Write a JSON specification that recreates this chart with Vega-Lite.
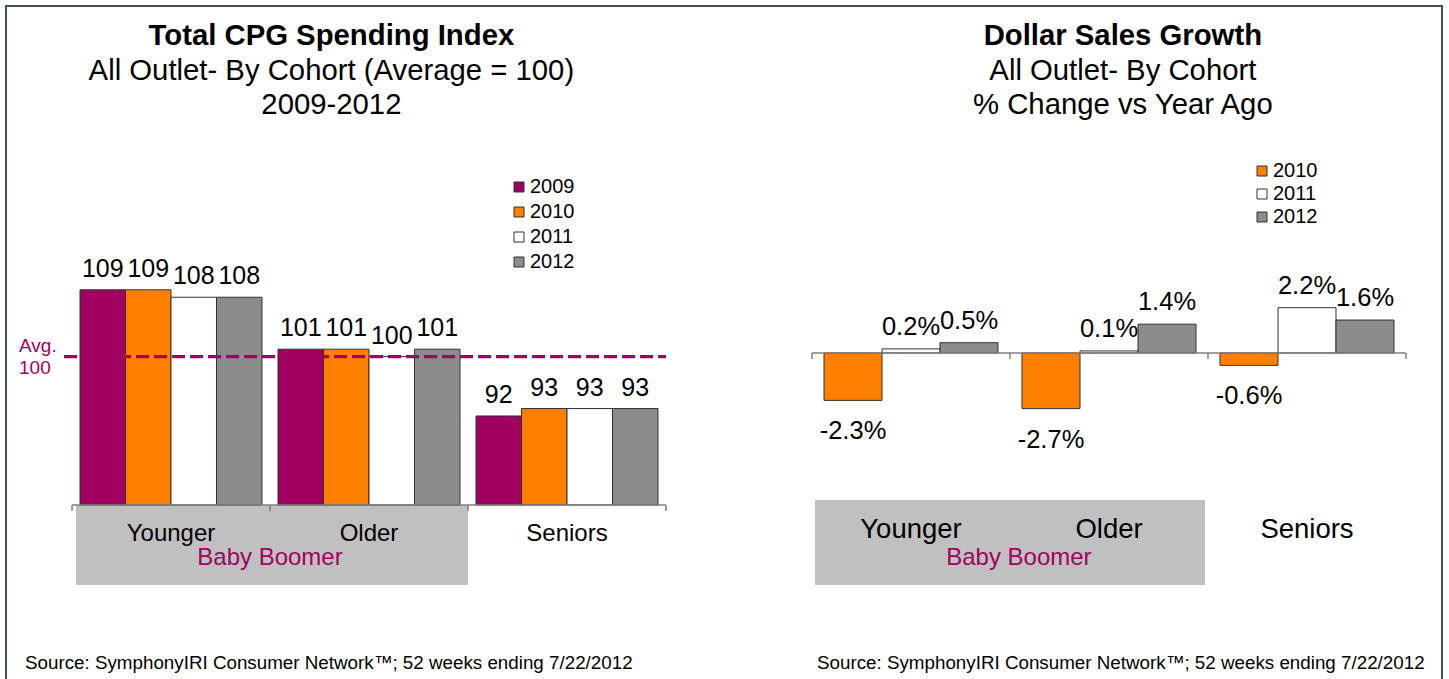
{
  "$schema": "https://vega.github.io/schema/vega-lite/v6.json",
  "width": 1449,
  "height": 679,
  "autosize": {"type": "fit", "contains": "padding"},
  "padding": {"left": 6, "top": 6, "right": 7, "bottom": -3},
  "background": "#FFFFFF",
  "config": {
    "font": "Liberation Sans",
    "axis": {"disable": true},
    "view": {"stroke": "#3D5166", "strokeWidth": 2},
    "legend": {
      "title": null,
      "labelFont": "Liberation Sans",
      "labelFontSize": 20,
      "labelColor": "#000000",
      "symbolType": "square",
      "symbolSize": 100,
      "symbolStrokeColor": "#333333",
      "symbolStrokeWidth": 1,
      "labelOffset": 1,
      "padding": 0
    }
  },
  "datasets": {
    "left": [
      {"cohort": "Younger", "year": "2009", "value": 109},
      {"cohort": "Younger", "year": "2010", "value": 109},
      {"cohort": "Younger", "year": "2011", "value": 108},
      {"cohort": "Younger", "year": "2012", "value": 108},
      {"cohort": "Older", "year": "2009", "value": 101},
      {"cohort": "Older", "year": "2010", "value": 101},
      {"cohort": "Older", "year": "2011", "value": 100},
      {"cohort": "Older", "year": "2012", "value": 101},
      {"cohort": "Seniors", "year": "2009", "value": 92},
      {"cohort": "Seniors", "year": "2010", "value": 93},
      {"cohort": "Seniors", "year": "2011", "value": 93},
      {"cohort": "Seniors", "year": "2012", "value": 93}
    ],
    "right": [
      {"cohort": "Younger", "year": "2010", "value": -2.3, "label": "-2.3%"},
      {"cohort": "Younger", "year": "2011", "value": 0.2, "label": "0.2%"},
      {"cohort": "Younger", "year": "2012", "value": 0.5, "label": "0.5%"},
      {"cohort": "Older", "year": "2010", "value": -2.7, "label": "-2.7%"},
      {"cohort": "Older", "year": "2011", "value": 0.1, "label": "0.1%"},
      {"cohort": "Older", "year": "2012", "value": 1.4, "label": "1.4%"},
      {"cohort": "Seniors", "year": "2010", "value": -0.6, "label": "-0.6%"},
      {"cohort": "Seniors", "year": "2011", "value": 2.2, "label": "2.2%"},
      {"cohort": "Seniors", "year": "2012", "value": 1.6, "label": "1.6%"}
    ],
    "cohorts": [
      {"cohort": "Younger"},
      {"cohort": "Older"},
      {"cohort": "Seniors"}
    ],
    "one": [{"k": 1}]
  },
  "layer": [
    {
      "layer": [
        {
          "data": {"name": "one"},
          "mark": {"type": "rect", "color": "#C0C0C0"},
          "encoding": {
            "x": {"datum": "Younger", "type": "nominal", "bandPosition": 0.02},
            "x2": {"datum": "Older", "bandPosition": 1},
            "y": {"datum": 80, "type": "quantitative"},
            "y2": {"datum": 69.22}
          }
        },
        {
          "data": {"name": "left"},
          "mark": {"type": "bar", "stroke": "#333333", "strokeWidth": 1},
          "encoding": {
            "x": {
              "field": "cohort", "type": "nominal",
              "scale": {"domain": ["Younger", "Older", "Seniors"], "range": [66, 660], "paddingInner": 0, "paddingOuter": 0}
            },
            "xOffset": {
              "field": "year", "type": "nominal",
              "scale": {"domain": ["2009", "2010", "2011", "2012"], "paddingInner": 0, "paddingOuter": 0.176}
            },
            "y": {
              "field": "value", "type": "quantitative",
              "scale": {"domain": [80, 120], "range": [499, 202.2], "zero": false, "nice": false}
            },
            "y2": {"datum": 80},
            "color": {
              "field": "year", "type": "nominal",
              "scale": {"domain": ["2009", "2010", "2011", "2012"], "range": ["#A0005F", "#FF7F00", "#FFFFFF", "#8C8C8C"]},
              "legend": {"orient": "none", "legendX": 503, "legendY": 171, "rowPadding": 5}
            }
          }
        },
        {
          "data": {"name": "one"},
          "mark": {"type": "rule", "color": "#7F7F7F", "strokeWidth": 1.5},
          "encoding": {
            "x": {"datum": "Younger", "type": "nominal", "bandPosition": 0},
            "x2": {"datum": "Seniors", "bandPosition": 1},
            "y": {"datum": 80, "type": "quantitative"}
          }
        },
        {
          "data": {"name": "cohorts"},
          "mark": {"type": "rule", "color": "#7F7F7F", "strokeWidth": 1.5},
          "encoding": {
            "x": {"field": "cohort", "type": "nominal", "bandPosition": 0},
            "y": {"datum": 80, "type": "quantitative"},
            "y2": {"datum": 79.2}
          }
        },
        {
          "data": {"name": "one"},
          "mark": {"type": "rule", "color": "#7F7F7F", "strokeWidth": 1.5},
          "encoding": {
            "x": {"datum": "Seniors", "type": "nominal", "bandPosition": 1},
            "y": {"datum": 80, "type": "quantitative"},
            "y2": {"datum": 79.2}
          }
        },
        {
          "data": {"name": "left"},
          "mark": {"type": "text", "fontSize": 25, "baseline": "alphabetic", "dy": -13, "color": "#000000"},
          "encoding": {
            "x": {"field": "cohort", "type": "nominal"},
            "xOffset": {"field": "year", "type": "nominal"},
            "y": {"field": "value", "type": "quantitative"},
            "text": {"field": "value", "type": "quantitative"}
          }
        },
        {
          "data": {"name": "one"},
          "mark": {"type": "rule", "color": "#A0005F", "strokeWidth": 3.3, "strokeDash": [13, 5]},
          "encoding": {
            "x": {"datum": "Younger", "type": "nominal", "bandPosition": -0.04},
            "x2": {"datum": "Seniors", "bandPosition": 1},
            "y": {"datum": 100, "type": "quantitative"}
          }
        },
        {
          "data": {"name": "one"},
          "mark": {"type": "text", "align": "left", "baseline": "middle", "dx": -53, "fontSize": 19, "lineHeight": 22, "color": "#A0005F"},
          "encoding": {
            "x": {"datum": "Younger", "type": "nominal", "bandPosition": 0},
            "y": {"datum": 101.43, "type": "quantitative"},
            "text": {"value": ["Avg.", "100"]}
          }
        },
        {
          "data": {"name": "cohorts"},
          "mark": {"type": "text", "fontSize": 24, "baseline": "middle", "color": "#000000"},
          "encoding": {
            "x": {"field": "cohort", "type": "nominal"},
            "y": {"datum": 76.1, "type": "quantitative"},
            "text": {"field": "cohort", "type": "nominal"}
          }
        },
        {
          "data": {"name": "one"},
          "mark": {"type": "text", "fontSize": 24, "baseline": "middle", "color": "#A0005F"},
          "encoding": {
            "x": {"datum": "Younger", "type": "nominal", "bandPosition": 1},
            "y": {"datum": 72.8, "type": "quantitative"},
            "text": {"value": "Baby Boomer"}
          }
        },
        {
          "data": {"name": "one"},
          "mark": {"type": "text", "fontSize": 29.3, "fontWeight": "bold", "baseline": "middle", "color": "#000000"},
          "encoding": {
            "x": {"datum": "Older", "type": "nominal", "bandPosition": 0.31},
            "y": {"datum": 143.2, "type": "quantitative"},
            "text": {"value": "Total CPG Spending Index"}
          }
        },
        {
          "data": {"name": "one"},
          "mark": {"type": "text", "fontSize": 29.3, "baseline": "middle", "color": "#000000"},
          "encoding": {
            "x": {"datum": "Older", "type": "nominal", "bandPosition": 0.31},
            "y": {"datum": 138.5, "type": "quantitative"},
            "text": {"value": "All Outlet- By Cohort (Average = 100)"}
          }
        },
        {
          "data": {"name": "one"},
          "mark": {"type": "text", "fontSize": 29.3, "baseline": "middle", "color": "#000000"},
          "encoding": {
            "x": {"datum": "Older", "type": "nominal", "bandPosition": 0.31},
            "y": {"datum": 133.9, "type": "quantitative"},
            "text": {"value": "2009-2012"}
          }
        },
        {
          "data": {"name": "one"},
          "mark": {"type": "text", "fontSize": 18.8, "align": "left", "baseline": "middle", "dx": -47, "color": "#000000"},
          "encoding": {
            "x": {"datum": "Younger", "type": "nominal", "bandPosition": 0},
            "y": {"datum": 58.7, "type": "quantitative"},
            "text": {"value": "Source:  SymphonyIRI Consumer Network™;  52 weeks ending 7/22/2012"}
          }
        }
      ]
    },
    {
      "layer": [
        {
          "data": {"name": "one"},
          "mark": {"type": "rect", "color": "#C0C0C0"},
          "encoding": {
            "x": {"datum": "Younger", "type": "nominal", "bandPosition": 0.015},
            "x2": {"datum": "Older", "bandPosition": 0.985},
            "y": {"datum": -7.14, "type": "quantitative"},
            "y2": {"datum": -11.26}
          }
        },
        {
          "data": {"name": "right"},
          "mark": {"type": "bar", "stroke": "#333333", "strokeWidth": 1},
          "encoding": {
            "x": {
              "field": "cohort", "type": "nominal",
              "scale": {"domain": ["Younger", "Older", "Seniors"], "range": [806, 1400], "paddingInner": 0, "paddingOuter": 0}
            },
            "xOffset": {
              "field": "year", "type": "nominal",
              "scale": {"domain": ["2010", "2011", "2012"], "paddingInner": 0, "paddingOuter": 0.207}
            },
            "y": {
              "field": "value", "type": "quantitative",
              "scale": {"domain": [-4, 7], "range": [429.4, 202.8], "zero": false, "nice": false}
            },
            "y2": {"datum": 0},
            "color": {
              "field": "year", "type": "nominal",
              "scale": {"domain": ["2010", "2011", "2012"], "range": ["#FF7F00", "#FFFFFF", "#8C8C8C"]},
              "legend": {"orient": "none", "legendX": 1246, "legendY": 155, "rowPadding": 3}
            }
          }
        },
        {
          "data": {"name": "one"},
          "mark": {"type": "rule", "color": "#7F7F7F", "strokeWidth": 1.5},
          "encoding": {
            "x": {"datum": "Younger", "type": "nominal", "bandPosition": 0},
            "x2": {"datum": "Seniors", "bandPosition": 1},
            "y": {"datum": 0, "type": "quantitative"}
          }
        },
        {
          "data": {"name": "cohorts"},
          "mark": {"type": "rule", "color": "#7F7F7F", "strokeWidth": 1.5},
          "encoding": {
            "x": {"field": "cohort", "type": "nominal", "bandPosition": 0},
            "y": {"datum": 0, "type": "quantitative"},
            "y2": {"datum": -0.29}
          }
        },
        {
          "data": {"name": "one"},
          "mark": {"type": "rule", "color": "#7F7F7F", "strokeWidth": 1.5},
          "encoding": {
            "x": {"datum": "Seniors", "type": "nominal", "bandPosition": 1},
            "y": {"datum": 0, "type": "quantitative"},
            "y2": {"datum": -0.29}
          }
        },
        {
          "data": {"name": "right"},
          "transform": [{"filter": "datum.value >= 0"}],
          "mark": {"type": "text", "fontSize": 25.5, "baseline": "alphabetic", "dy": -14, "color": "#000000"},
          "encoding": {
            "x": {"field": "cohort", "type": "nominal"},
            "xOffset": {"field": "year", "type": "nominal"},
            "y": {"field": "value", "type": "quantitative"},
            "text": {"field": "label", "type": "nominal"}
          }
        },
        {
          "data": {"name": "right"},
          "transform": [{"filter": "datum.value < 0"}],
          "mark": {"type": "text", "fontSize": 25.5, "baseline": "alphabetic", "dy": 39, "color": "#000000"},
          "encoding": {
            "x": {"field": "cohort", "type": "nominal"},
            "xOffset": {"field": "year", "type": "nominal"},
            "y": {"field": "value", "type": "quantitative"},
            "text": {"field": "label", "type": "nominal"}
          }
        },
        {
          "data": {"name": "cohorts"},
          "mark": {"type": "text", "fontSize": 27.5, "baseline": "middle", "color": "#000000"},
          "encoding": {
            "x": {"field": "cohort", "type": "nominal"},
            "y": {"datum": -8.59, "type": "quantitative"},
            "text": {"field": "cohort", "type": "nominal"}
          }
        },
        {
          "data": {"name": "one"},
          "mark": {"type": "text", "fontSize": 24, "baseline": "middle", "color": "#A0005F"},
          "encoding": {
            "x": {"datum": "Older", "type": "nominal", "bandPosition": 0.045},
            "y": {"datum": -9.95, "type": "quantitative"},
            "text": {"value": "Baby Boomer"}
          }
        },
        {
          "data": {"name": "one"},
          "mark": {"type": "text", "fontSize": 29.3, "fontWeight": "bold", "baseline": "middle", "color": "#000000"},
          "encoding": {
            "x": {"datum": "Older", "type": "nominal", "bandPosition": 0.57},
            "y": {"datum": 15.39, "type": "quantitative"},
            "text": {"value": "Dollar Sales Growth"}
          }
        },
        {
          "data": {"name": "one"},
          "mark": {"type": "text", "fontSize": 29.3, "baseline": "middle", "color": "#000000"},
          "encoding": {
            "x": {"datum": "Older", "type": "nominal", "bandPosition": 0.57},
            "y": {"datum": 13.69, "type": "quantitative"},
            "text": {"value": "All Outlet- By Cohort"}
          }
        },
        {
          "data": {"name": "one"},
          "mark": {"type": "text", "fontSize": 29.3, "baseline": "middle", "color": "#000000"},
          "encoding": {
            "x": {"datum": "Older", "type": "nominal", "bandPosition": 0.57},
            "y": {"datum": 12.04, "type": "quantitative"},
            "text": {"value": "% Change vs Year Ago"}
          }
        },
        {
          "data": {"name": "one"},
          "mark": {"type": "text", "fontSize": 18.8, "align": "left", "baseline": "middle", "dx": 5, "color": "#000000"},
          "encoding": {
            "x": {"datum": "Younger", "type": "nominal", "bandPosition": 0},
            "y": {"datum": -15.05, "type": "quantitative"},
            "text": {"value": "Source:  SymphonyIRI Consumer Network™;  52 weeks ending 7/22/2012"}
          }
        }
      ]
    }
  ],
  "resolve": {
    "scale": {"x": "independent", "y": "independent", "xOffset": "independent", "color": "independent"}
  }
}
